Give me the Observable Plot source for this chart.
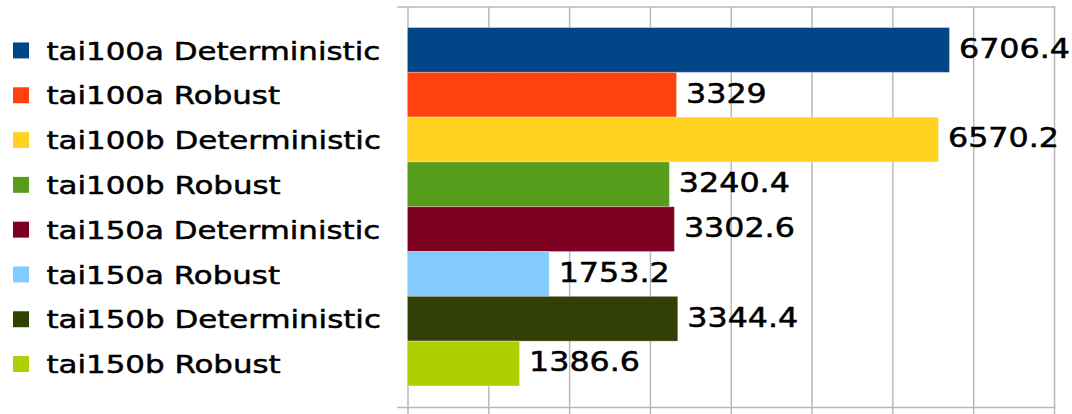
<!DOCTYPE html>
<html>
<head>
<meta charset="utf-8">
<script src="https://cdn.jsdelivr.net/npm/d3@7"></script>
<script src="https://cdn.jsdelivr.net/npm/@observablehq/plot@0.6"></script>
<style>
  html, body { margin: 0; padding: 0; background: #fff; }
</style>
</head>
<body>
<div id="chart"></div>
<script>
const categories = [
  "tai100a Deterministic",
  "tai100a Robust",
  "tai100b Deterministic",
  "tai100b Robust",
  "tai150a Deterministic",
  "tai150a Robust",
  "tai150b Deterministic",
  "tai150b Robust"
];
const values = [6706.4, 3329, 6570.2, 3240.4, 3302.6, 1753.2, 3344.4, 1386.6];
const colors = ["#004586", "#ff420e", "#ffd320", "#579d1c", "#7e0021", "#83caff", "#314004", "#aecf00"];
const xTicks = [0, 1000, 2000, 3000, 4000, 5000, 6000, 7000, 8000];

const data = categories.map((c, i) => ({cat: c, value: values[i]}));
const grid = "#b8b8b8";

const svg = Plot.plot({
  width: 1072,
  height: 414,
  marginLeft: 407.5,
  marginRight: 18,
  marginTop: 6.5,
  marginBottom: 7,
  x: {domain: [0, 8000], axis: null},
  y: {domain: categories, axis: null, paddingInner: 0, paddingOuter: 0.47, round: false},
  color: {domain: categories, range: colors},
  style: {fontFamily: "DejaVu Sans", background: "white", color: "black"},
  marks: [
    Plot.ruleX(xTicks, {stroke: grid, strokeWidth: 1.5, insetBottom: -7}),
    Plot.frame({anchor: "top", stroke: grid, strokeWidth: 1.5, insetLeft: -10}),
    Plot.frame({anchor: "bottom", stroke: grid, strokeWidth: 1.5, insetLeft: -10}),
    Plot.barX(data, {x: "value", y: "cat", fill: "cat", stroke: "white", strokeOpacity: 0.3, strokeWidth: 1}),
    Plot.text(data, {x: "value", y: "cat", text: d => String(d.value), textAnchor: "start", dx: 9, dy: -1, fontSize: 26, fill: "black", stroke: "black", strokeWidth: 0.5}),
    Plot.text(categories, {y: d => d, text: d => d, frameAnchor: "left", dx: -361.5, dy: 1, textAnchor: "start", fontSize: 25.3, fill: "black", stroke: "black", strokeWidth: 0.5}),
    Plot.dot(categories, {y: d => d, frameAnchor: "left", dx: -387, dy: 0, symbol: "square", r: 9, fill: d => d})
  ]
});

// stretch glyphs horizontally, as in the reference rendering
d3.select(svg).selectAll('g[aria-label="text"] text').each(function() {
  const t = this.getAttribute("transform") || "";
  this.setAttribute("transform", t + " scale(1.22,1)");
});

document.getElementById("chart").appendChild(svg);
</script>
</body>
</html>
